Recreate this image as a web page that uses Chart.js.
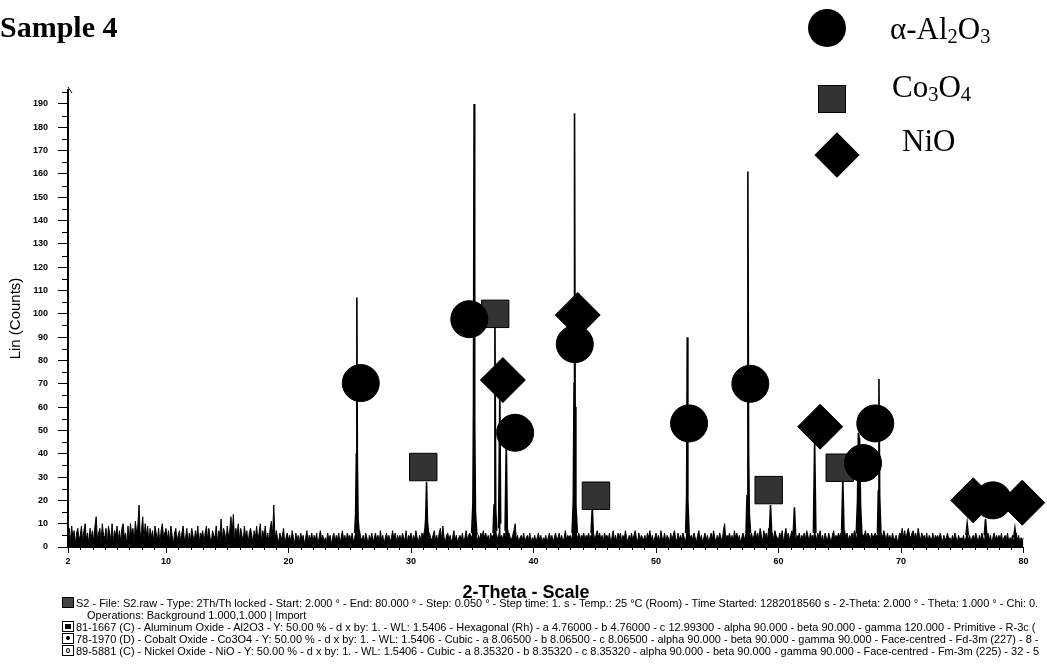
<!DOCTYPE html>
<html>
<head>
<meta charset="utf-8">
<script src="https://cdn.jsdelivr.net/npm/chart.js@4.4.0/dist/chart.umd.min.js"></script>
<style>
  html, body { margin: 0; padding: 0; background: #fff; width: 1047px; height: 665px; overflow: hidden; }
  #wrap { position: relative; width: 1047px; height: 665px; overflow: hidden; }
  #xrd { position: absolute; left: 0; top: 0; }
  .title { position: absolute; left: 0; top: 12px; font: bold 30px "Liberation Serif", serif; line-height: 1; color: #000; }
  .leg { position: absolute; font: 31px "Liberation Serif", serif; line-height: 1; color: #000; white-space: nowrap; }
  .leg sub { font-size: 66%; vertical-align: -0.2em; line-height: 0; }
  .sym { position: absolute; background: #000; }
  .xtitle { position: absolute; left: 0; width: 1052px; text-align: center; top: 582px; font: bold 18px "Liberation Sans", Arial, sans-serif; color: #000; }
  .info { position: absolute; left: 62px; width: 1100px; white-space: nowrap; font-family: "Liberation Sans", Arial, sans-serif; color: #000; line-height: 12px; }
  .icon { display: inline-block; width: 10px; height: 9px; border: 1px solid #000; vertical-align: -1px; margin-right: 2px; position: relative; }
  .icon i { position: absolute; background: #000; }
</style>
</head>
<body>
<div id="wrap">
  <canvas id="xrd" width="1047" height="665"></canvas>

  <div class="title">Sample 4</div>

  <div class="sym" style="left:808px; top:9px; width:38px; height:38px; border-radius:50%;"></div>
  <div class="leg" style="left:890px; top:13px;">α-Al<sub>2</sub>O<sub>3</sub></div>
  <div class="sym" style="left:818px; top:85px; width:28px; height:28px; background:#333; box-shadow: inset 0 0 0 1px #000;"></div>
  <div class="leg" style="left:892px; top:71px;">Co<sub>3</sub>O<sub>4</sub></div>
  <div class="sym" style="left:821px; top:139px; width:32px; height:32px; transform: rotate(45deg);"></div>
  <div class="leg" style="left:902px; top:125px;">NiO</div>

  <div class="xtitle">2-Theta - Scale</div>

  <div class="info" id="l1" style="top:597px;"><span class="icon" style="background:#444"></span><span class="t">S2 - File: S2.raw - Type: 2Th/Th locked - Start: 2.000 ° - End: 80.000 ° - Step: 0.050 ° - Step time: 1. s - Temp.: 25 °C (Room) - Time Started: 1282018560 s - 2-Theta: 2.000 ° - Theta: 1.000 ° - Chi: 0.</span></div>
  <div class="info" style="top:609px; left:87px;"><span class="t">Operations: Background 1.000,1.000 | Import</span></div>
  <div class="info" style="top:621px;"><span class="icon"><i style="left:2px;top:2px;width:6px;height:5px"></i></span><span class="t">81-1667 (C) - Aluminum Oxide - Al2O3 - Y: 50.00 % - d x by: 1. - WL: 1.5406 - Hexagonal (Rh) - a 4.76000 - b 4.76000 - c 12.99300 - alpha 90.000 - beta 90.000 - gamma 120.000 - Primitive - R-3c (</span></div>
  <div class="info" style="top:633px;"><span class="icon"><i style="left:3px;top:2px;width:4px;height:4px;border-radius:50%"></i></span><span class="t">78-1970 (D) - Cobalt Oxide - Co3O4 - Y: 50.00 % - d x by: 1. - WL: 1.5406 - Cubic - a 8.06500 - b 8.06500 - c 8.06500 - alpha 90.000 - beta 90.000 - gamma 90.000 - Face-centred - Fd-3m (227) - 8 -</span></div>
  <div class="info" style="top:645px;"><span class="icon"><i style="left:3px;top:2px;width:2px;height:3px;background:transparent;border:1px solid #000;border-radius:50%"></i></span><span class="t">89-5881 (C) - Nickel Oxide - NiO - Y: 50.00 % - d x by: 1. - WL: 1.5406 - Cubic - a 8.35320 - b 8.35320 - c 8.35320 - alpha 90.000 - beta 90.000 - gamma 90.000 - Face-centred - Fm-3m (225) - 32 - 5</span></div>
</div>

<script>
// Scan grid of the background trace: 2.0° to 80.0° in 0.1° steps
const scanStart = 2.0;
const scanStep = 0.1;

// Background counts, one row per degree (10 readings each)
const backgroundCounts = [
  3,8,2,9,4,7,1,6,8,3,      // 2
  5,9,2,7,10,3,6,1,8,4,     // 3
  7,2,9,13,3,6,8,2,10,5,    // 4
  4,8,1,9,6,3,10,2,7,5,     // 5
  9,3,7,2,8,10,4,6,1,9,     // 6
  3,10,5,8,2,11,6,9,18,4,   // 7
  7,13,3,10,5,9,2,8,4,7,    // 8
  2,9,6,3,8,1,7,10,4,6,     // 9
  8,3,7,2,9,5,1,6,8,3,      // 10
  5,7,2,6,9,3,4,8,1,6,      // 11
  3,8,5,2,7,4,9,1,6,5,      // 12
  7,2,6,9,3,8,4,2,7,5,      // 13
  4,9,2,7,5,12,3,8,6,2,     // 14
  9,4,7,13,6,14,2,8,5,10,   // 15
  3,8,5,2,9,4,7,1,6,8,      // 16
  5,2,7,4,9,3,6,10,2,7,     // 17
  4,9,3,6,2,8,11,5,18,3,    // 18
  7,4,2,6,3,5,8,1,4,6,      // 19
  3,5,2,7,4,1,6,3,5,2,      // 20
  6,3,5,1,4,7,2,5,3,6,      // 21
  2,5,3,6,1,4,7,3,5,2,      // 22
  4,2,6,3,5,1,4,6,2,5,      // 23
  3,6,2,4,7,3,5,2,6,4,      // 24
  5,3,6,2,4,6,5,3,7,4,      // 25
  3,5,2,6,4,1,5,3,6,2,      // 26
  4,6,3,5,2,7,3,5,1,4,      // 27
  6,3,5,2,4,7,3,6,2,5,      // 28
  3,5,2,6,4,3,7,2,5,4,      // 29
  6,2,5,3,7,4,2,5,3,6,      // 30
  4,7,3,5,2,6,4,3,5,7,      // 31
  3,5,2,6,8,3,9,4,2,5,      // 32
  6,3,5,2,4,7,3,5,2,4,      // 33
  5,3,6,2,4,7,3,5,6,4,      // 34
  5,3,6,4,2,5,3,6,4,7,      // 35
  4,6,3,5,2,6,4,5,3,6,      // 36
  5,3,6,4,5,3,6,4,5,3,      // 37
  6,4,3,5,7,10,3,5,2,4,     // 38
  5,3,6,2,4,5,3,6,2,4,      // 39
  3,5,2,4,6,3,5,2,4,3,      // 40
  5,2,4,6,3,5,2,4,6,3,      // 41
  4,6,3,5,2,4,7,3,5,4,      // 42
  5,3,6,4,3,5,4,6,3,5,      // 43
  4,6,3,5,4,6,3,5,2,6,      // 44
  3,5,7,4,6,3,5,2,6,4,      // 45
  5,3,6,2,4,7,3,5,2,6,      // 46
  4,6,2,5,3,7,4,2,5,3,      // 47
  6,3,5,7,4,2,6,3,5,4,      // 48
  3,5,2,6,4,7,3,5,2,4,      // 49
  6,3,5,2,7,4,3,6,2,5,      // 50
  4,2,6,3,5,7,4,2,6,3,      // 51
  5,3,6,4,2,5,3,6,4,5,      // 52
  3,6,4,2,5,7,3,5,2,4,      // 53
  6,3,5,2,4,6,3,7,4,2,      // 54
  5,3,6,4,2,7,10,3,5,4,     // 55
  6,3,5,2,7,4,6,3,5,2,      // 56
  4,6,3,5,7,5,6,4,6,3,      // 57
  5,7,4,6,3,8,5,2,7,4,      // 58
  6,3,8,5,4,6,3,7,5,4,      // 59
  3,6,4,7,2,5,8,4,6,3,      // 60
  5,7,4,6,3,5,4,6,3,5,      // 61
  4,6,3,7,5,2,6,4,5,3,      // 62
  5,3,6,4,7,3,5,2,6,4,      // 63
  3,6,4,2,5,7,3,5,4,6,      // 64
  4,6,3,5,7,4,6,3,5,4,      // 65
  6,4,7,5,3,6,5,4,6,5,      // 66
  5,7,4,6,5,3,6,4,5,6,      // 67
  4,6,5,3,6,4,7,5,3,6,      // 68
  3,5,2,6,4,3,5,2,4,6,      // 69
  5,8,4,7,3,6,8,5,4,6,      // 70
  7,4,6,3,8,5,3,6,4,5,      // 71
  3,6,2,5,4,3,6,2,5,4,      // 72
  5,3,6,4,2,5,3,4,6,3,      // 73
  4,2,5,3,6,4,2,5,3,4,      // 74
  3,5,2,4,6,3,5,2,4,5,      // 75
  3,6,4,2,5,3,6,4,2,5,      // 76
  4,6,3,5,2,4,6,3,5,3,      // 77
  5,3,6,2,4,5,3,6,2,4,      // 78
  3,5,2,4,6,3,5,2,4,3,      // 79
  4                         // 80
];

// Reflection profiles: [2θ, counts] readings across each peak
const peakProfiles = [
  [[25.40,6],[25.48,14],[25.54,40],[25.58,107],[25.62,38],[25.68,12],[25.78,5]],
  [[31.10,5],[31.20,12],[31.27,28],[31.34,11],[31.45,5]],
  [[34.95,6],[35.05,18],[35.10,60],[35.15,190],[35.20,55],[35.26,15],[35.38,5]],
  [[36.70,6],[36.78,18],[36.85,100],[36.92,16],[37.00,7]],
  [[37.15,8],[37.25,66],[37.32,10]],
  [[37.68,7],[37.78,46],[37.86,8],[37.95,5]],
  [[43.15,6],[43.25,20],[43.31,70],[43.35,186],[43.40,60],[43.46,18],[43.58,6]],
  [[44.70,6],[44.80,17],[44.88,6]],
  [[52.42,6],[52.50,22],[52.55,90],[52.60,20],[52.70,6]],
  [[57.35,6],[57.43,22],[57.50,161],[57.56,40],[57.62,14],[57.72,6]],
  [[59.25,5],[59.35,18],[59.45,5]],
  [[61.20,5],[61.30,17],[61.40,5]],
  [[62.85,6],[62.95,46],[63.05,6]],
  [[65.15,6],[65.25,29],[65.35,6]],
  [[66.35,6],[66.45,20],[66.52,49],[66.62,46],[66.70,18],[66.80,6]],
  [[68.08,6],[68.15,24],[68.20,72],[68.26,22],[68.36,6]],
  [[75.30,5],[75.40,10],[75.50,5]],
  [[76.80,5],[76.90,12],[77.00,5]],
  [[79.20,4],[79.30,8],[79.40,4]]
];

// Phase markers placed on the pattern: [2θ, counts]
const al2o3Marks = [[25.9,70.3],[34.76,97.7],[38.5,49],[43.37,87],[52.7,53],[57.7,70],[66.9,36],[67.9,53],[77.5,20]];
const co3o4Marks = [[31.0,34.3],[36.87,100],[45.1,22],[59.2,24.4],[65.0,34]];
const nioMarks   = [[37.5,71.6],[43.61,99.5],[63.4,51.6],[75.9,20],[79.9,19]];

// Axis tick labels
const xTickValues = [2,10,20,30,40,50,60,70,80];
const yTickValues = [0,10,20,30,40,50,60,70,80,90,100,110,120,130,140,150,160,170,180,190];

// Fit the scan-information lines to the width of the first line
(function fitInfo() {
  const m = document.createElement('canvas').getContext('2d');
  m.font = '10px "Liberation Sans"';
  const first = document.querySelector('#l1 .t').textContent;
  const size = 10 * 964 / m.measureText(first).width;
  document.querySelectorAll('.info').forEach(el => el.style.fontSize = size.toFixed(2) + 'px');
})();

const toXY = pts => pts.map(([x, y]) => ({ x, y }));

const traceStyle = {
  type: 'line', borderColor: '#000', backgroundColor: '#000', borderWidth: 1,
  pointRadius: 0, tension: 0, fill: 'origin', order: 5
};

const datasets = [
  Object.assign({}, traceStyle, {
    data: backgroundCounts.map((c, i) => ({ x: +(scanStart + i * scanStep).toFixed(2), y: c }))
  }),
  ...peakProfiles.map(p => Object.assign({}, traceStyle, { data: toXY(p), borderWidth: 1.6 })),
  { type: 'scatter', data: toXY(al2o3Marks), pointStyle: 'circle', pointRadius: 18.5,
    backgroundColor: '#000', borderColor: '#000', borderWidth: 1, clip: false, order: 0 },
  { type: 'scatter', data: toXY(nioMarks), pointStyle: 'rectRot', pointRadius: 22.5,
    backgroundColor: '#000', borderColor: '#000', borderWidth: 1, clip: false, order: 1 },
  { type: 'scatter', data: toXY(co3o4Marks), pointStyle: 'rect', pointRadius: 19.4,
    backgroundColor: '#333', borderColor: '#000', borderWidth: 1, clip: false, order: 2 }
];

// Short minor ticks between the labelled ones
const minorTicks = {
  id: 'minorTicks',
  afterDraw(chart) {
    const { ctx, scales: { x, y } } = chart;
    ctx.save();
    ctx.strokeStyle = '#000';
    ctx.lineWidth = 1;
    const yt = y.ticks;
    const half = (yt[1].value - yt[0].value) / 2;
    yt.forEach(t => {
      const v = t.value + half;
      if (v >= y.max) return;
      const py = Math.round(y.getPixelForValue(v)) + 0.5;
      ctx.beginPath(); ctx.moveTo(x.left - 6, py); ctx.lineTo(x.left, py); ctx.stroke();
    });
    for (let v = Math.ceil(x.min); v < x.max; v++) {
      if (xTickValues.includes(v)) continue;
      const px = Math.round(x.getPixelForValue(v)) + 0.5;
      ctx.beginPath(); ctx.moveTo(px, y.bottom); ctx.lineTo(px, y.bottom + 3); ctx.stroke();
    }
    // arrow tip on the count axis
    ctx.beginPath();
    ctx.moveTo(x.left, y.top - 3); ctx.lineTo(x.left + 4, y.top + 3); ctx.stroke();
    ctx.restore();
  }
};

const tickFont = { family: 'Liberation Sans', size: 9, weight: 'bold' };

new Chart(document.getElementById('xrd'), {
  type: 'line',
  data: { datasets },
  plugins: [minorTicks],
  options: {
    responsive: false,
    animation: false,
    events: [],
    layout: { padding: { left: 0, top: 90, right: 19, bottom: 88 } },
    plugins: { legend: { display: false }, tooltip: { enabled: false } },
    scales: {
      x: {
        type: 'linear', min: 2, max: 80,
        afterBuildTicks: s => { s.ticks = xTickValues.map(v => ({ value: v })); },
        afterFit: s => { s.height = 30; },
        grid: { display: true, drawOnChartArea: false, drawTicks: true, tickLength: 6, color: '#000', lineWidth: 1 },
        border: { display: true, color: '#000', width: 1 },
        ticks: { color: '#000', font: tickFont, padding: 3, maxRotation: 0, autoSkip: false }
      },
      y: {
        type: 'linear', min: 0, max: 196,
        afterBuildTicks: s => { s.ticks = yTickValues.map(v => ({ value: v })); },
        afterFit: s => { s.width = 68; },
        grid: { display: true, drawOnChartArea: false, drawTicks: true, tickLength: 10, color: '#000', lineWidth: 1 },
        border: { display: true, color: '#000', width: 2 },
        ticks: { color: '#000', font: tickFont, padding: 10, autoSkip: false },
        title: { display: true, text: 'Lin (Counts)', color: '#000',
                 font: { family: 'Liberation Sans', size: 15 }, padding: { top: 7, bottom: 0 } }
      }
    }
  }
});
</script>
</body>
</html>
